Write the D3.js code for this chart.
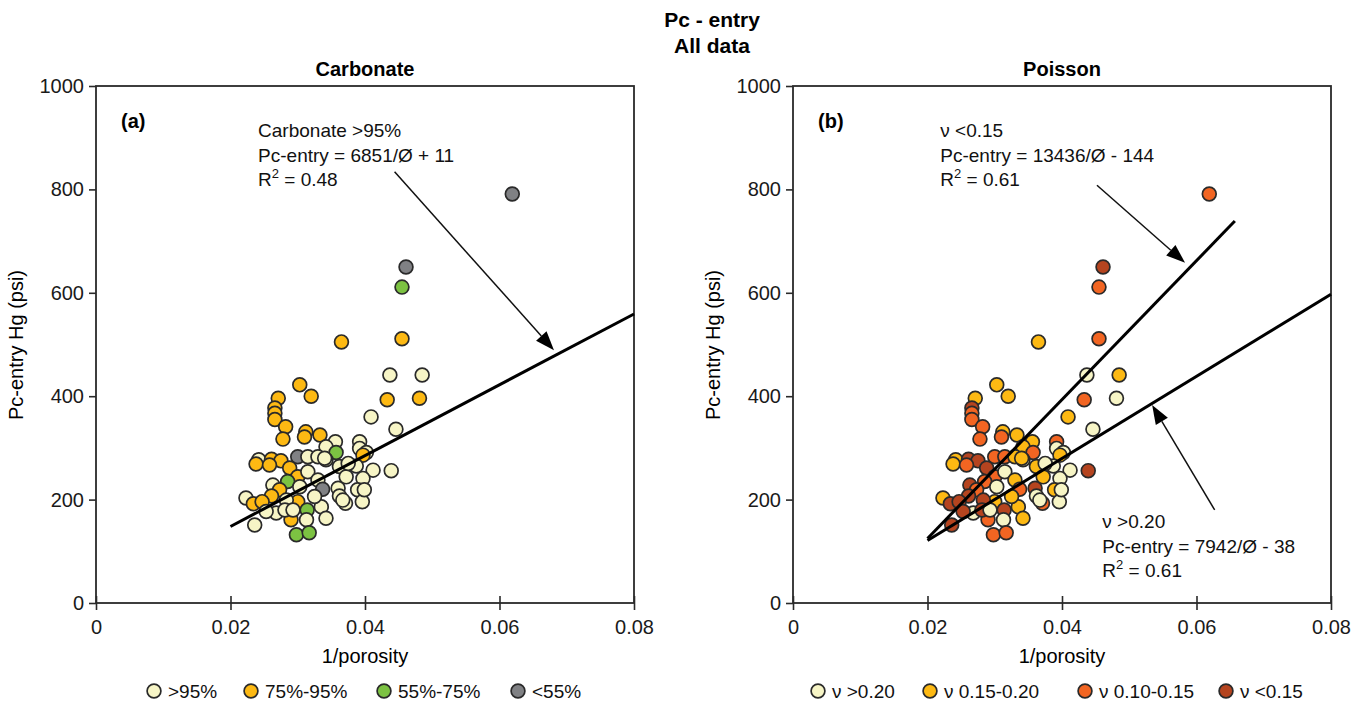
<!DOCTYPE html>
<html>
<head>
<meta charset="utf-8">
<script src="https://cdn.jsdelivr.net/npm/d3@7"></script>
<style>
  html, body { margin: 0; padding: 0; background: #fff; }
  svg { display: block; font-family: "Liberation Sans", Arial, Helvetica, sans-serif; }
</style>
</head>
<body>
<svg id="chart" width="1365" height="704"></svg>
<script>
// Sample values: 1/porosity and entry pressure (psi)
const invPorosity = [
  0.0619, 0.0461, 0.0455, 0.0455, 0.0365, 0.0437, 0.0485, 0.0303, 0.0320, 0.0433,
  0.0481, 0.0271, 0.0266, 0.0266, 0.0266, 0.0409, 0.0282, 0.0446, 0.0312, 0.0310,
  0.0333, 0.0278, 0.0356, 0.0392, 0.0342, 0.0392, 0.0357, 0.0402, 0.0397, 0.0300,
  0.0242, 0.0261, 0.0275, 0.0238, 0.0258, 0.0315, 0.0330, 0.0342, 0.0362, 0.0387,
  0.0412, 0.0439, 0.0288, 0.0300, 0.0285, 0.0315, 0.0372, 0.0397, 0.0330, 0.0263,
  0.0273, 0.0337, 0.0360, 0.0389, 0.0362, 0.0223, 0.0261, 0.0234, 0.0247, 0.0300,
  0.0371, 0.0396, 0.0283, 0.0314, 0.0335, 0.0268, 0.0253, 0.0290, 0.0313, 0.0342,
  0.0236, 0.0298, 0.0317, 0.0303, 0.0325, 0.0281, 0.0293, 0.0375, 0.0399, 0.0367,
  0.0340
];
const pcEntry = [
  791, 650, 611, 511, 505, 441, 441, 422, 400, 393,
  396, 396, 377, 367, 355, 360, 341, 336, 331, 321,
  325, 317, 312, 312, 302, 299, 291, 291, 286, 283,
  277, 278, 275, 269, 267, 283, 283, 277, 264, 265,
  257, 256, 261, 244, 235, 254, 244, 241, 238, 228,
  219, 220, 222, 219, 207, 203, 207, 192, 196, 196,
  193, 196, 199, 180, 186, 174, 177, 161, 161, 164,
  151, 132, 136, 225, 206, 180, 180, 270, 219, 199,
  280
];
// Carbonate class index (0 >95%, 1 75-95%, 2 55-75%, 3 <55%)
const carbClass = [
  3, 3, 2, 1, 1, 0, 0, 1, 1, 1,
  1, 1, 1, 1, 1, 0, 1, 0, 1, 1,
  1, 1, 0, 0, 0, 0, 2, 0, 1, 3,
  0, 1, 1, 1, 1, 0, 0, 0, 0, 0,
  0, 0, 1, 1, 2, 0, 0, 0, 0, 0,
  1, 3, 0, 0, 0, 0, 1, 1, 1, 1,
  0, 0, 0, 2, 0, 0, 0, 1, 0, 0,
  0, 2, 2, 0, 0, 0, 0, 0, 0, 0,
  0
];
// Poisson class index (0 >0.20, 1 0.15-0.20, 2 0.10-0.15, 3 <0.15)
const poisClass = [
  2, 3, 2, 2, 1, 0, 1, 1, 1, 2,
  0, 1, 3, 2, 2, 1, 2, 0, 1, 2,
  1, 2, 1, 2, 1, 0, 2, 0, 1, 2,
  1, 3, 3, 1, 2, 2, 1, 0, 1, 0,
  0, 3, 3, 2, 2, 0, 1, 0, 1, 3,
  2, 2, 3, 1, 0, 1, 3, 3, 3, 1,
  2, 0, 3, 3, 1, 0, 3, 2, 0, 1,
  3, 2, 2, 0, 1, 3, 0, 0, 0, 0,
  1
];

const carbLabels = [">95%", "75%-95%", "55%-75%", "<55%"];
const poisLabels = ["\u03bd >0.20", "\u03bd 0.15-0.20", "\u03bd 0.10-0.15", "\u03bd <0.15"];
const carbColors = ["#f7f5c6", "#fdb913", "#7cc242", "#808184"];
const poisColors = ["#f7f5c6", "#fdb913", "#f26522", "#b5441f"];

const xTicks = [0, 0.02, 0.04, 0.06, 0.08];
const xTickLabels = ["0", "0.02", "0.04", "0.06", "0.08"];
const yTicks = [0, 200, 400, 600, 800, 1000];

// Fitted lines: Pc = slope * (1/porosity) + intercept
const fitCarb = [{ slope: 6851, intercept: 11, x0: 0.02, x1: 0.08 }];
const fitPois = [
  { slope: 13436, intercept: -144, x0: 0.02, x1: 0.0657 },
  { slope: 7942, intercept: -38, x0: 0.02, x1: 0.08 }
];

const svg = d3.select("#chart");
const ink = "#2a2a2a";

function drawPanel(opts) {
  const g = svg.append("g");
  const x = d3.scaleLinear().domain([0, 0.08]).range([opts.left, opts.left + 538]);
  const y = d3.scaleLinear().domain([0, 1000]).range([603, 86]);

  // axes
  const xAxis = g.append("g").attr("transform", "translate(0,603)")
    .call(d3.axisBottom(x).tickValues(xTicks).tickFormat((d, i) => xTickLabels[i]).tickSize(7).tickSizeOuter(0).tickPadding(10));
  xAxis.selectAll(".tick line").attr("y1", -7).attr("y2", 7);
  const yAxis = g.append("g").attr("transform", `translate(${opts.left},0)`)
    .call(d3.axisLeft(y).tickValues(yTicks).tickFormat(d3.format("d")).tickSize(7).tickSizeOuter(0).tickPadding(5));
  [xAxis, yAxis].forEach(a => {
    a.select(".domain").remove();
    a.selectAll(".tick line").attr("stroke", ink).attr("stroke-width", 1.6);
    a.selectAll(".tick text").attr("fill", "#1a1a1a").style("font-size", "20px");
  });

  // frame
  g.append("rect")
    .attr("x", x(0)).attr("y", y(1000))
    .attr("width", x(0.08) - x(0)).attr("height", y(0) - y(1000))
    .attr("fill", "none").attr("stroke", ink).attr("stroke-width", 1.8);

  // panel title
  g.append("text").attr("x", (x(0) + x(0.08)) / 2).attr("y", 76)
    .attr("text-anchor", "middle").attr("font-weight", "bold").style("font-size", "20px")
    .text(opts.title);
  // panel letter
  g.append("text").attr("x", x(0) + 25).attr("y", 128)
    .attr("font-weight", "bold").style("font-size", "20px").text(opts.letter);

  // axis titles
  g.append("text").attr("x", (x(0) + x(0.08)) / 2).attr("y", 663)
    .attr("text-anchor", "middle").style("font-size", "20px").text("1/porosity");
  g.append("text")
    .attr("transform", `translate(${opts.left - 73},345) rotate(-90)`)
    .attr("text-anchor", "middle").style("font-size", "20px").text("Pc-entry Hg (psi)");

  // points
  g.append("g").selectAll("circle")
    .data(d3.range(invPorosity.length))
    .join("circle")
    .attr("cx", i => x(invPorosity[i]))
    .attr("cy", i => y(pcEntry[i]))
    .attr("r", 6.9)
    .attr("fill", i => opts.colors[opts.cls[i]])
    .attr("stroke", ink).attr("stroke-width", 1.7);

  // fitted lines
  g.append("g").selectAll("line")
    .data(opts.fits)
    .join("line")
    .attr("x1", d => x(d.x0)).attr("y1", d => y(d.slope * d.x0 + d.intercept))
    .attr("x2", d => x(d.x1)).attr("y2", d => y(d.slope * d.x1 + d.intercept))
    .attr("stroke", "#000").attr("stroke-width", 3).attr("stroke-linecap", "butt");

  // annotations
  opts.notes.forEach(n => {
    const t = g.append("text").style("font-size", "19px").attr("fill", "#111");
    t.append("tspan").attr("x", x(n.at[0])).attr("y", n.at[1]).text(n.lines[0]);
    t.append("tspan").attr("x", x(n.at[0])).attr("y", n.at[1] + 24.5).text(n.lines[1]);
    t.append("tspan").attr("x", x(n.at[0])).attr("y", n.at[1] + 49).text("R");
    t.append("tspan").attr("dy", -8).style("font-size", "13px").text("2");
    t.append("tspan").attr("dy", 8).text(" = " + n.r2);

    // arrow
    const x1 = x(n.arrow[0]), y1 = y(n.arrow[1]), x2 = x(n.arrow[2]), y2 = y(n.arrow[3]);
    const ang = Math.atan2(y2 - y1, x2 - x1);
    const L = 19, W = 7;
    const bx = x2 - L * Math.cos(ang), by = y2 - L * Math.sin(ang);
    g.append("line").attr("x1", x1).attr("y1", y1).attr("x2", bx).attr("y2", by)
      .attr("stroke", "#111").attr("stroke-width", 1.5);
    g.append("path")
      .attr("d", `M${x2},${y2}L${bx + W * Math.sin(ang)},${by - W * Math.cos(ang)}L${bx - W * Math.sin(ang)},${by + W * Math.cos(ang)}Z`)
      .attr("fill", "#000");
  });

  // legend
  const lg = g.append("g");
  opts.legend.forEach((lab, i) => {
    const cx = opts.legendX[i];
    lg.append("circle").attr("cx", cx).attr("cy", 691).attr("r", 6.9)
      .attr("fill", opts.colors[i]).attr("stroke", ink).attr("stroke-width", 1.7);
    lg.append("text").attr("x", cx + 14).attr("y", 698).style("font-size", "19px")
      .attr("fill", "#111").text(lab);
  });
}

// overall title
svg.append("text").attr("x", 712).attr("y", 27).attr("text-anchor", "middle")
  .attr("font-weight", "bold").style("font-size", "21px").text("Pc - entry");
svg.append("text").attr("x", 712).attr("y", 53).attr("text-anchor", "middle")
  .attr("font-weight", "bold").style("font-size", "21px").text("All data");

drawPanel({
  left: 96, title: "Carbonate", letter: "(a)",
  cls: carbClass, colors: carbColors, fits: fitCarb,
  notes: [{
    at: [0.0241, 137],
    lines: ["Carbonate >95%", "Pc-entry = 6851/\u00d8 + 11"], r2: "0.48",
    arrow: [0.0444, 834, 0.0681, 489]
  }],
  legend: carbLabels, legendX: [154, 251, 384, 518]
});

drawPanel({
  left: 793, title: "Poisson", letter: "(b)",
  cls: poisClass, colors: poisColors, fits: fitPois,
  notes: [
    {
      at: [0.0219, 137],
      lines: ["\u03bd <0.15", "Pc-entry = 13436/\u00d8 - 144"], r2: "0.61",
      arrow: [0.0452, 808, 0.0583, 658]
    },
    {
      at: [0.0460, 528],
      lines: ["\u03bd >0.20", "Pc-entry = 7942/\u00d8 - 38"], r2: "0.61",
      arrow: [0.0627, 180, 0.0534, 383]
    }
  ],
  legend: poisLabels, legendX: [818, 930, 1085, 1226]
});
</script>
</body>
</html>
